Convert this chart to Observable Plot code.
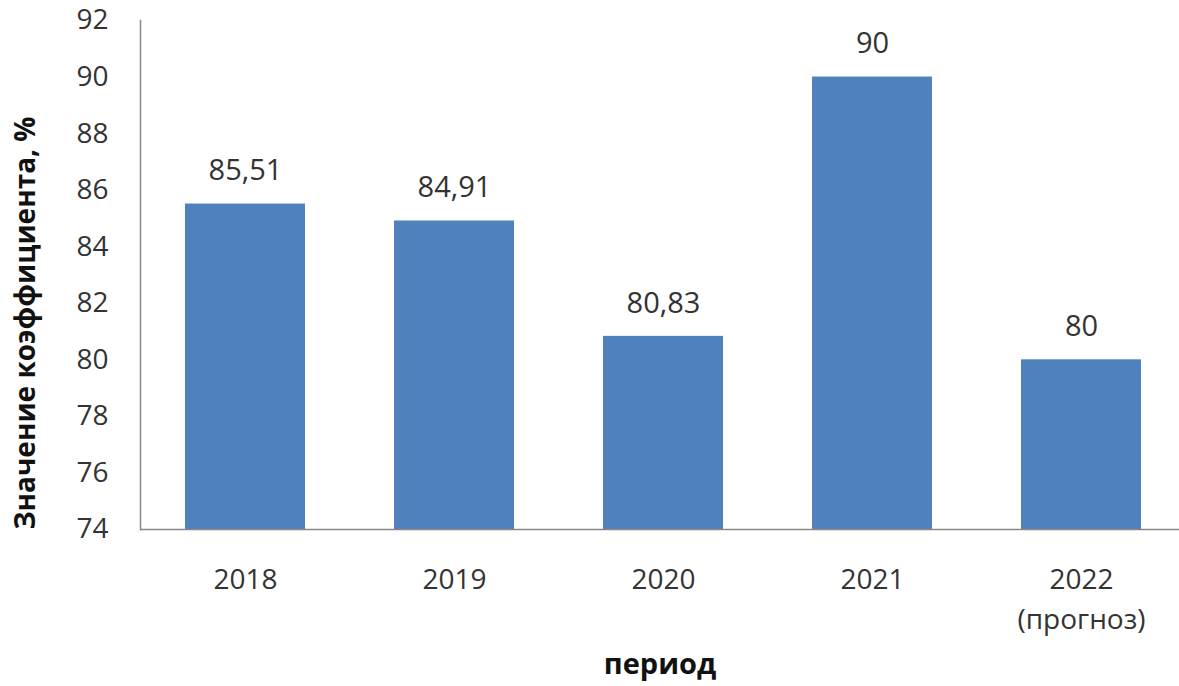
<!DOCTYPE html>
<html>
<head>
<meta charset="utf-8">
<script src="https://cdn.jsdelivr.net/npm/d3@7"></script>
<script src="https://cdn.jsdelivr.net/npm/@observablehq/plot@0.6"></script>
<style>
  html, body { margin: 0; padding: 0; background: #fff; overflow: hidden; }
  #chart svg { display: block; }
</style>
</head>
<body>
<div id="chart"></div>
<script>
const years = ["2018", "2019", "2020", "2021", "2022"];
const values = [85.51, 84.91, 80.83, 90, 80];
const tickLabels = ["2018", "2019", "2020", "2021", "2022\n(прогноз)"];
const valueLabels = ["85,51", "84,91", "80,83", "90", "80"];
const yTicks = [74, 76, 78, 80, 82, 84, 86, 88, 90, 92];

const data = years.map((year, i) => ({year, value: values[i], label: valueLabels[i]}));
const tickMap = new Map(years.map((y, i) => [y, tickLabels[i]]));

const font = "'Open Sans', 'DejaVu Sans', sans-serif";

const chart = Plot.plot({
  width: 1179,
  height: 686,
  marginLeft: 140,
  marginTop: 20,
  marginBottom: 157,
  marginRight: 0,
  style: {fontFamily: font, fontSize: "26px", color: "#333", background: "#fff", overflow: "hidden"},
  x: {domain: years, range: [140, 1185], paddingInner: 0.426, paddingOuter: 0.213, align: 0.5, label: null},
  y: {domain: [74, 92], label: null},
  marks: [
    Plot.barY(data, {x: "year", y1: 74, y2: "value", fill: "#4f81bd"}),
    Plot.ruleY([74], {stroke: "#888", strokeWidth: 1.5}),
    Plot.frame({anchor: "left", stroke: "#888", strokeWidth: 1.5}),
    Plot.text(data, {x: "year", y: "value", text: "label", dy: -33, fontSize: 29, fill: "#333"}),
    Plot.axisY({ticks: yTicks, tickSize: 0, tickPadding: 32, fontSize: 28, fill: "#333", label: null}),
    Plot.axisX({tickSize: 0, tickPadding: 32, fontSize: 28, fill: "#333", lineHeight: 1.4, tickFormat: d => tickMap.get(d), label: null}),
    Plot.text(["Значение коэффициента, %"], {frameAnchor: "left", textAnchor: "middle", dx: -114, dy: 48, rotate: -90, fontSize: 28, fontWeight: "bold", fill: "#111", text: d => d}),
    Plot.text(["период"], {frameAnchor: "bottom", dy: 144, fontSize: 29, fontWeight: "bold", fill: "#111", text: d => d})
  ]
});
document.getElementById("chart").appendChild(chart);
</script>
</body>
</html>
